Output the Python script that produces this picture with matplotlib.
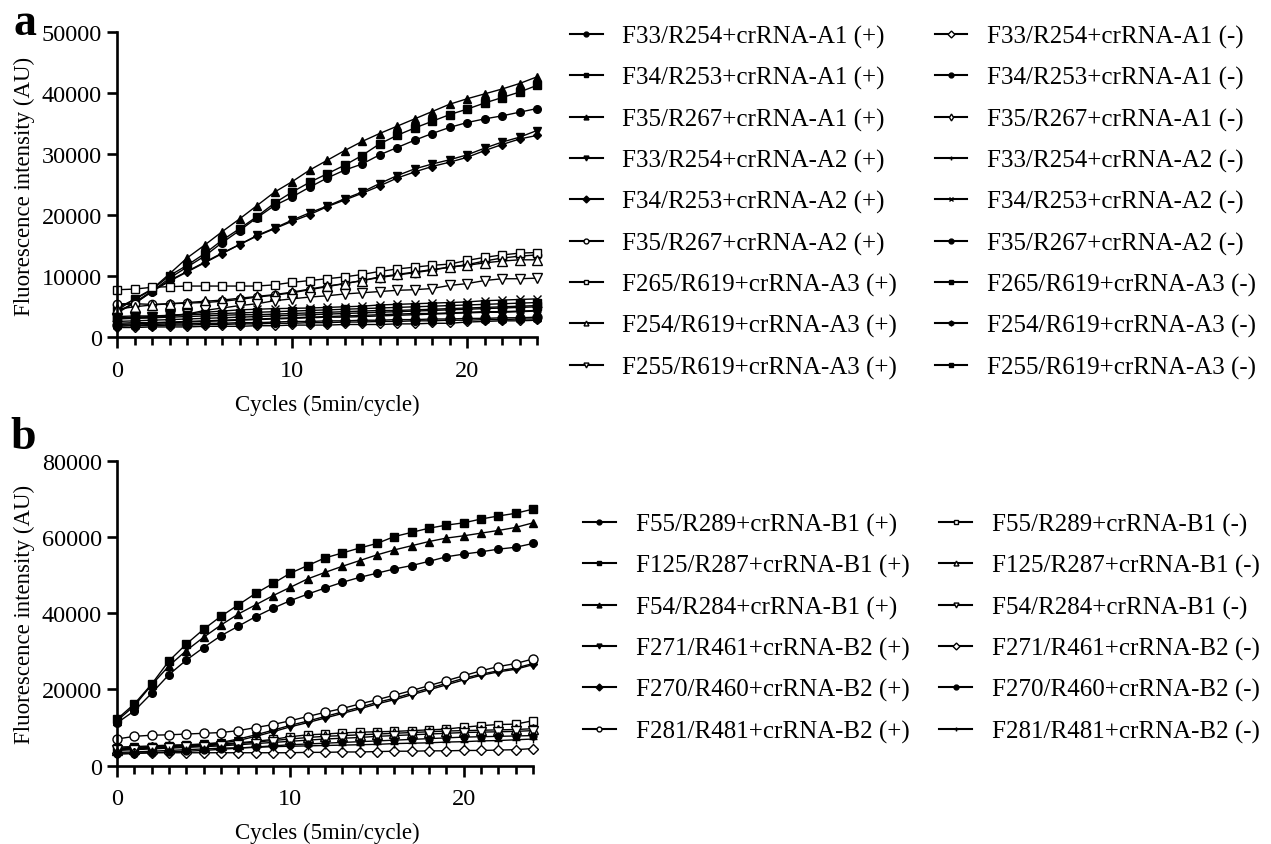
import numpy as np
import matplotlib
matplotlib.use("Agg")
import matplotlib.pyplot as plt
from matplotlib.ticker import MultipleLocator

plt.rcParams['font.family'] = ['Liberation Serif', 'DejaVu Serif']

cycles = list(range(25))

# ---- panel a: crRNA-A series ----
labels_a = [
    "F33/R254+crRNA-A1 (+)", "F34/R253+crRNA-A1 (+)", "F35/R267+crRNA-A1 (+)",
    "F33/R254+crRNA-A2 (+)", "F34/R253+crRNA-A2 (+)", "F35/R267+crRNA-A2 (+)",
    "F265/R619+crRNA-A3 (+)", "F254/R619+crRNA-A3 (+)", "F255/R619+crRNA-A3 (+)",
    "F33/R254+crRNA-A1 (-)", "F34/R253+crRNA-A1 (-)", "F35/R267+crRNA-A1 (-)",
    "F33/R254+crRNA-A2 (-)", "F34/R253+crRNA-A2 (-)", "F35/R267+crRNA-A2 (-)",
    "F265/R619+crRNA-A3 (-)", "F254/R619+crRNA-A3 (-)", "F255/R619+crRNA-A3 (-)",
]
a1_33_pos = [5300, 5500, 7500, 9700, 11500, 13300, 15500, 17500, 19600, 21600, 23000, 24600, 26100,
             27400, 28400, 29900, 31100, 32300, 33400, 34400, 35200, 35800, 36300, 36900, 37500]
a1_34_pos = [4800, 6200, 7800, 10100, 11800, 13700, 15900, 17800, 19800, 22000, 23800, 25400, 26800,
             28200, 29800, 31700, 33100, 34300, 35400, 36500, 37400, 38400, 39300, 40200, 41300]
a1_35_pos = [4400, 6300, 7900, 10400, 13000, 15100, 17300, 19400, 21600, 23800, 25500, 27400, 29000,
             30600, 32100, 33400, 34600, 35800, 37000, 38200, 39100, 39900, 40700, 41600, 42700]
a2_33_pos = [4100, 5700, 7600, 9300, 10800, 12300, 13800, 15200, 16700, 17900, 19200, 20400, 21500,
             22700, 23800, 25200, 26500, 27600, 28400, 29100, 29900, 31000, 32000, 32800, 33900]
a2_34_pos = [4000, 5600, 7500, 9200, 10700, 12200, 13700, 15200, 16600, 17800, 19000, 20100, 21400,
             22500, 23600, 24800, 26100, 27100, 28000, 28700, 29500, 30600, 31600, 32500, 33100]
a2_35_pos = [5500, 5500, 5400, 5500, 5600, 5700, 5900, 6200, 6600, 6900, 7300, 7800, 8300,
             8800, 9300, 9800, 10200, 10600, 11000, 11500, 11900, 12500, 13000, 13300, 13500]
a3_265_pos = [7800, 7900, 8200, 8300, 8400, 8400, 8400, 8400, 8400, 8600, 9000, 9300, 9600,
              9900, 10300, 10800, 11200, 11500, 11800, 12000, 12600, 13100, 13500, 13800, 13900]
a3_254_pos = [4600, 5000, 5300, 5500, 5700, 5900, 6100, 6400, 6700, 7000, 7400, 7900, 8400,
              8800, 9300, 9900, 10300, 10700, 11100, 11500, 11800, 12200, 12500, 12700, 12700]
a3_255_pos = [3200, 3300, 3400, 3600, 3800, 4400, 4800, 5200, 5500, 6000, 6300, 6600, 6800,
              7100, 7300, 7500, 7700, 7800, 8000, 8500, 8800, 9300, 9600, 9600, 9700]
a1_33_neg = [1600, 1600, 1700, 1700, 1700, 1800, 1800, 1800, 1900, 1900, 2000, 2000, 2000,
             2100, 2100, 2100, 2200, 2200, 2300, 2300, 2500, 2600, 2700, 2700, 2800]
a1_34_neg = [2000, 2000, 2100, 2200, 2200, 2300, 2300, 2400, 2400, 2500, 2600, 2600, 2700,
             2700, 2800, 2800, 2900, 2900, 3000, 3000, 3100, 3100, 3200, 3200, 3300]
a1_35_neg = [2300, 2400, 2400, 2500, 2600, 2700, 2800, 2900, 3000, 3100, 3200, 3300, 3400,
             3500, 3600, 3700, 3800, 3900, 3900, 4000, 4100, 4200, 4200, 4300, 4400]
a2_33_neg = [2600, 2700, 2800, 2900, 3000, 3100, 3200, 3300, 3400, 3500, 3600, 3700, 3800,
             3900, 4000, 4100, 4200, 4300, 4400, 4500, 4600, 4700, 4800, 4900, 5000]
a2_34_neg = [3000, 3100, 3200, 3500, 3800, 4100, 4300, 4500, 4600, 4700, 4750, 4800, 4900,
             5000, 5100, 5300, 5400, 5500, 5600, 5700, 5800, 6000, 6100, 6200, 6300]
a2_35_neg = [2100, 2200, 2300, 2400, 2500, 2600, 2700, 2800, 2900, 3000, 3100, 3200, 3300,
             3300, 3400, 3500, 3600, 3700, 3800, 3900, 4000, 4100, 4100, 4200, 4300]
a3_265_neg = [3400, 3500, 3500, 3600, 3700, 3800, 3900, 4000, 4100, 4200, 4300, 4400, 4500,
              4600, 4700, 4800, 4900, 5000, 5100, 5200, 5300, 5400, 5500, 5600, 5700]
a3_254_neg = [1800, 1900, 1900, 2000, 2000, 2100, 2100, 2200, 2200, 2300, 2300, 2400, 2400,
              2500, 2500, 2600, 2600, 2700, 2700, 2800, 2800, 2900, 2900, 3000, 3000]
a3_255_neg = [3100, 3200, 3200, 3300, 3400, 3500, 3600, 3700, 3700, 3800, 3900, 4000, 4100,
              4200, 4300, 4400, 4400, 4500, 4600, 4700, 4800, 4900, 5000, 5100, 5200]
data_a = [a1_33_pos, a1_34_pos, a1_35_pos, a2_33_pos, a2_34_pos, a2_35_pos,
          a3_265_pos, a3_254_pos, a3_255_pos,
          a1_33_neg, a1_34_neg, a1_35_neg, a2_33_neg, a2_34_neg, a2_35_neg,
          a3_265_neg, a3_254_neg, a3_255_neg]

# ---- panel b: crRNA-B series ----
labels_b = [
    "F55/R289+crRNA-B1 (+)", "F125/R287+crRNA-B1 (+)", "F54/R284+crRNA-B1 (+)",
    "F271/R461+crRNA-B2 (+)", "F270/R460+crRNA-B2 (+)", "F281/R481+crRNA-B2 (+)",
    "F55/R289+crRNA-B1 (-)", "F125/R287+crRNA-B1 (-)", "F54/R284+crRNA-B1 (-)",
    "F271/R461+crRNA-B2 (-)", "F270/R460+crRNA-B2 (-)", "F281/R481+crRNA-B2 (-)",
]
b1_55_pos = [11200, 14400, 19000, 23900, 27700, 31000, 34100, 36600, 39100, 41300, 43300, 45000, 46600,
             48100, 49400, 50500, 51600, 52500, 53600, 54800, 55500, 56100, 56800, 57300, 58300]
b1_125_pos = [12200, 16200, 21400, 27500, 31900, 35800, 39200, 42200, 45200, 47800, 50500, 52500, 54500,
              55800, 57100, 58300, 60100, 61200, 62300, 63100, 63700, 64700, 65500, 66200, 67300]
b1_54_pos = [11800, 15700, 21200, 26200, 30200, 33700, 36900, 39800, 42200, 44600, 46800, 49000, 50700,
             52300, 53800, 55300, 56600, 57700, 58800, 59700, 60300, 61000, 61700, 62500, 63700]
b2_271_pos = [4600, 4800, 5000, 5200, 5400, 5600, 5900, 6600, 7700, 8900, 10200, 11300, 12500,
              13700, 14900, 16200, 17300, 18600, 19900, 21200, 22500, 23700, 24600, 25300, 26500]
b2_270_pos = [4900, 5000, 5200, 5400, 5500, 5700, 6100, 7000, 8100, 9300, 10600, 11700, 12900,
              14100, 15300, 16600, 17700, 19000, 20300, 21600, 22900, 24000, 24900, 25600, 26800]
b2_281_pos = [7000, 7700, 8000, 8100, 8300, 8500, 8700, 9200, 10000, 10800, 11800, 12900, 14000,
              15000, 16200, 17300, 18500, 19700, 21000, 22300, 23600, 24900, 26000, 26800, 28000]
b1_55_neg = [4400, 4600, 4800, 5000, 5200, 5400, 5700, 6000, 6400, 6900, 7600, 8100, 8300,
             8600, 8800, 8900, 9000, 9200, 9400, 9600, 10100, 10500, 10800, 10900, 11800]
b1_125_neg = [4200, 4400, 4600, 4800, 5000, 5200, 5500, 5800, 6200, 6600, 7000, 7400, 7700,
              7900, 8100, 8300, 8500, 8700, 8900, 9100, 9200, 9300, 9400, 9500, 9700]
b1_54_neg = [4000, 4200, 4400, 4600, 4800, 5000, 5200, 5500, 5800, 6100, 6400, 6700, 7000,
             7200, 7400, 7700, 7900, 8100, 8300, 8500, 8700, 8800, 8900, 9000, 9200]
b2_271_neg = [3300, 3300, 3400, 3400, 3400, 3400, 3400, 3400, 3400, 3400, 3400, 3500, 3500,
              3600, 3600, 3700, 3800, 3800, 3900, 3900, 4000, 4000, 4100, 4200, 4500]
b2_270_neg = [3000, 3200, 3400, 3600, 3800, 4000, 4300, 4600, 4900, 5200, 5500, 5700, 5900,
              6100, 6300, 6500, 6700, 6900, 7100, 7300, 7500, 7600, 7700, 7800, 7900]
b2_281_neg = [3500, 3600, 3800, 4000, 4200, 4400, 4600, 4700, 4800, 5000, 5100, 5200, 5300,
              5400, 5500, 5600, 5800, 5900, 6000, 6200, 6300, 6500, 6600, 6800, 7000]
data_b = [b1_55_pos, b1_125_pos, b1_54_pos, b2_271_pos, b2_270_pos, b2_281_pos,
          b1_55_neg, b1_125_neg, b1_54_neg, b2_271_neg, b2_270_neg, b2_281_neg]

# marker styles (marker, filled, size)
styles_a = [('o', True, 5.5), ('s', True, 5.5), ('^', True, 6), ('v', True, 6), ('D', True, 4.5),
            ('o', False, 6), ('s', False, 6), ('^', False, 6.5), ('v', False, 6.5),
            ('D', False, 4.5), ('o', True, 6.5), ('d', False, 5.5), ('+', True, 6.5), ('x', True, 5.5),
            ('o', True, 5), ('s', True, 5.5), ('h', True, 6), ('s', True, 5.5)]
styles_b = [('o', True, 5.5), ('s', True, 5.5), ('^', True, 6), ('v', True, 6), ('D', True, 4.5),
            ('o', False, 6.5), ('s', False, 6), ('^', False, 6.5), ('v', False, 6.5),
            ('D', False, 5), ('o', True, 5), ('+', True, 5.5)]

W, H = 1271, 845
fig = plt.figure(figsize=(W / 100, H / 100), dpi=100)


def draw_panel(rect, data, labels, styles, ymax, leg_anchor, colspace):
    ax = fig.add_axes(rect)
    handles = []
    for vals, lab, (m, filled, ms) in zip(data, labels, styles):
        ln, = ax.plot(cycles, vals, color='black', lw=1.0, marker=m, ms=ms,
                      mfc='black' if filled else 'white', mec='black', mew=1.0,
                      label=lab, clip_on=False)
        handles.append(ln)
    ax.set_xlim(0, 24)
    ax.set_ylim(0, ymax)
    ax.xaxis.set_major_locator(MultipleLocator(10))
    ax.xaxis.set_minor_locator(MultipleLocator(1))
    ax.yaxis.set_major_locator(MultipleLocator(ymax / 5 if ymax == 50000 else 20000))
    for s in ['top', 'right']:
        ax.spines[s].set_visible(False)
    for s in ['left', 'bottom']:
        ax.spines[s].set_linewidth(1.9)
    ax.tick_params(axis='x', which='major', length=8, width=1.9, pad=8, labelsize=17.5)
    ax.tick_params(axis='x', which='minor', length=5.5, width=1.9)
    ax.tick_params(axis='y', which='major', length=7, width=1.9, pad=4, labelsize=17.5)
    leg = fig.legend(handles, labels, loc='upper left', bbox_to_anchor=leg_anchor,
                     bbox_transform=fig.transFigure, ncol=2, frameon=False,
                     fontsize=18, borderpad=0, borderaxespad=0, handlelength=1.3,
                     handletextpad=0.8, labelspacing=0.73, columnspacing=colspace)
    for h in leg.legend_handles:
        h.set_markersize(3.5)
        h.set_linewidth(1.5)
    return ax


ax_a = draw_panel([117 / W, 1 - 338.3 / H, 420 / W, 305 / H], data_a, labels_a, styles_a,
                  50000, (570 / W, 1 - 26 / H), 1.5)
ax_b = draw_panel([117 / W, 1 - 766.7 / H, 416 / W, 305 / H], data_b, labels_b, styles_b,
                  80000, (583 / W, 1 - 514 / H), 1.2)

# axis titles and panel letters
for yc, xl_y in [(186, 405), (614, 833)]:
    fig.text(24 / W, 1 - yc / H, "Fluorescence intensity (AU)", rotation=90,
             ha='center', va='center', fontsize=16.5)
    fig.text(327 / W, 1 - xl_y / H, "Cycles (5min/cycle)", ha='center', va='center',
             fontsize=16.5)
fig.text(25 / W, 1 - 24 / H, "a", ha='center', va='center', fontsize=33, fontweight='bold')
fig.text(23 / W, 1 - 438 / H, "b", ha='center', va='center', fontsize=33, fontweight='bold')

fig.savefig("out.png", dpi=100)
